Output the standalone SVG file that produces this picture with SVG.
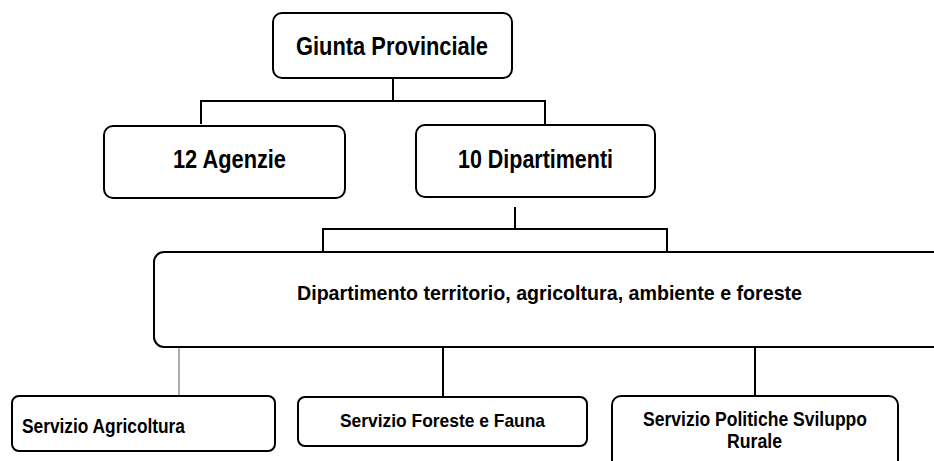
<svg xmlns="http://www.w3.org/2000/svg" width="934" height="461" viewBox="0 0 934 461">
<style>
.box{fill:#fff;stroke:#000;stroke-width:2}
.t{font-family:"Liberation Sans",Arial,sans-serif;font-weight:bold;fill:#000}
.c{text-anchor:middle}
.ln{stroke:#000;stroke-width:2;fill:none}
.thin{stroke:#777;stroke-width:1.2;fill:none}
</style>
<rect width="934" height="461" fill="#fff"/>
<g id="connectors">
<path class="ln" d="M393 78V101M201 124V101H545V125"/>
<path class="ln" d="M515 207V229M323 252V229H667V252"/>
<path class="thin" d="M179 347V396"/>
<path class="ln" d="M443 347V397M755 347V396"/>
</g>
<g id="giunta">
<rect class="box" x="273" y="13" width="239" height="65" rx="9"/>
<text class="t c" x="392" y="55" font-size="26" textLength="192" lengthAdjust="spacingAndGlyphs">Giunta Provinciale</text>
</g>
<g id="agenzie">
<rect class="box" x="104" y="126" width="241" height="72" rx="9"/>
<text class="t c" x="229.5" y="168" font-size="26" textLength="113" lengthAdjust="spacingAndGlyphs">12 Agenzie</text>
</g>
<g id="dipartimenti">
<rect class="box" x="416" y="125" width="239" height="72" rx="9"/>
<text class="t c" x="535.5" y="168" font-size="26" textLength="155" lengthAdjust="spacingAndGlyphs">10 Dipartimenti</text>
</g>
<g id="dipartimento-territorio">
<rect class="box" x="154" y="252" width="800" height="95" rx="10"/>
<text class="t c" x="549.5" y="300" font-size="21" textLength="505" lengthAdjust="spacingAndGlyphs">Dipartimento territorio, agricoltura, ambiente e foreste</text>
</g>
<g id="servizio-agricoltura">
<rect class="box" x="12" y="396" width="263" height="55" rx="7"/>
<text class="t" x="22" y="433" font-size="21" textLength="163" lengthAdjust="spacingAndGlyphs">Servizio Agricoltura</text>
</g>
<g id="servizio-foreste">
<rect class="box" x="298" y="397" width="289" height="49" rx="7"/>
<text class="t c" x="442.5" y="427" font-size="19" textLength="205" lengthAdjust="spacingAndGlyphs">Servizio Foreste e Fauna</text>
</g>
<g id="servizio-politiche">
<rect class="box" x="612" y="396" width="286" height="80" rx="9"/>
<text class="t c" x="755" y="426" font-size="21" textLength="224" lengthAdjust="spacingAndGlyphs">Servizio Politiche Sviluppo</text>
<text class="t c" x="754.5" y="448" font-size="21" textLength="55" lengthAdjust="spacingAndGlyphs">Rurale</text>
</g>
</svg>
